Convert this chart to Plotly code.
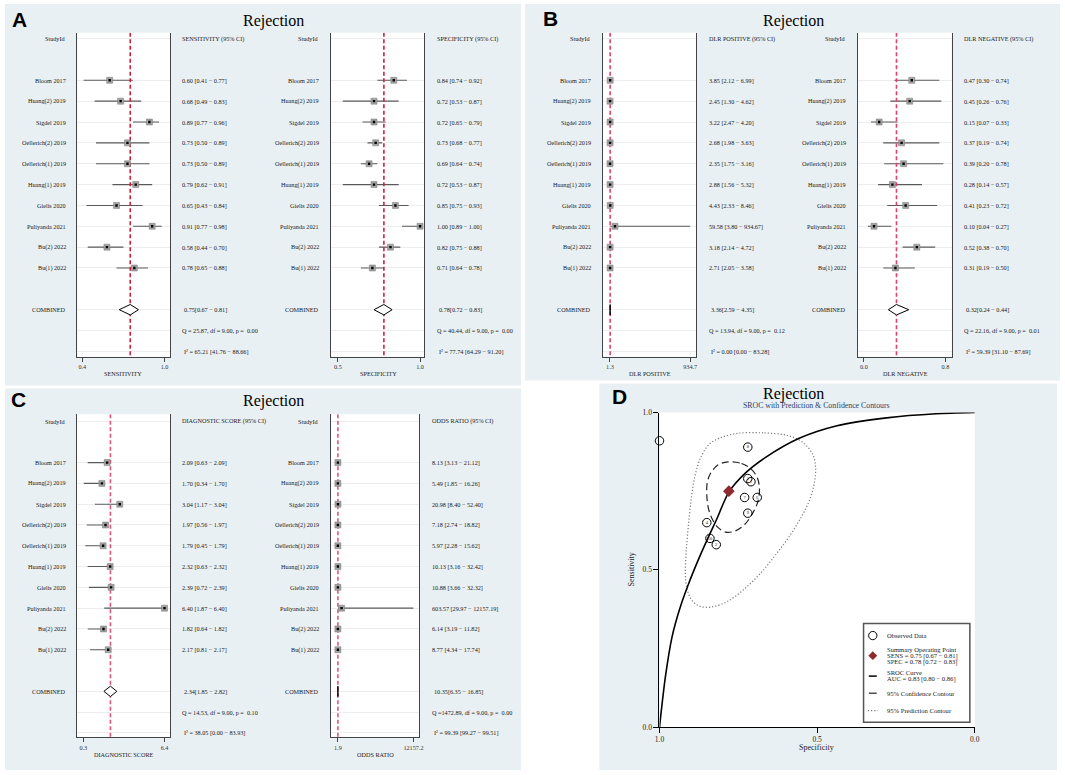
import plotly.graph_objects as go

W, H = 1065, 775
SERIF = "Liberation Serif"

# ---------------- data ----------------
studies = ["Bloom 2017", "Huang(2) 2019", "Sigdel 2019", "Oellerich(2) 2019", "Oellerich(1) 2019",
           "Huang(1) 2019", "Gielis 2020", "Puliyanda 2021", "Bu(2) 2022", "Bu(1) 2022"]

sens = [0.60, 0.68, 0.89, 0.73, 0.73, 0.79, 0.65, 0.91, 0.58, 0.78]
sens_lo = [0.41, 0.49, 0.77, 0.50, 0.50, 0.62, 0.43, 0.77, 0.44, 0.65]
sens_hi = [0.77, 0.83, 0.96, 0.89, 0.89, 0.91, 0.84, 0.98, 0.70, 0.88]
sens_comb = [0.75, 0.67, 0.81]
sens_q = "Q = 25.87, df = 9.00, p =  0.00"
sens_i2 = "I² = 65.21 [41.76 − 88.66]"

spec = [0.84, 0.72, 0.72, 0.73, 0.69, 0.72, 0.85, 1.00, 0.82, 0.71]
spec_lo = [0.74, 0.53, 0.65, 0.68, 0.64, 0.53, 0.75, 0.89, 0.75, 0.64]
spec_hi = [0.92, 0.87, 0.79, 0.77, 0.74, 0.87, 0.93, 1.00, 0.88, 0.78]
spec_comb = [0.78, 0.72, 0.83]
spec_q = "Q = 40.44, df = 9.00, p =  0.00"
spec_i2 = "I² = 77.74 [64.29 − 91.20]"

dlrp = [3.85, 2.45, 3.22, 2.68, 2.35, 2.88, 4.43, 59.58, 3.18, 2.71]
dlrp_lo = [2.12, 1.30, 2.47, 1.98, 1.75, 1.56, 2.33, 3.80, 2.14, 2.05]
dlrp_hi = [6.99, 4.62, 4.20, 3.63, 3.16, 5.32, 8.46, 934.67, 4.72, 3.58]
dlrp_comb = [3.36, 2.59, 4.35]
dlrp_q = "Q = 13.94, df = 9.00, p =  0.12"
dlrp_i2 = "I² = 0.00 [0.00 − 83.28]"

dlrn = [0.47, 0.45, 0.15, 0.37, 0.39, 0.28, 0.41, 0.10, 0.52, 0.31]
dlrn_lo = [0.30, 0.26, 0.07, 0.19, 0.20, 0.14, 0.23, 0.04, 0.38, 0.19]
dlrn_hi = [0.74, 0.76, 0.33, 0.74, 0.78, 0.57, 0.72, 0.27, 0.70, 0.50]
dlrn_comb = [0.32, 0.24, 0.44]
dlrn_q = "Q = 22.16, df = 9.00, p =  0.01"
dlrn_i2 = "I² = 59.39 [31.10 − 87.69]"

dscore = [2.09, 1.70, 3.04, 1.97, 1.79, 2.32, 2.39, 6.40, 1.82, 2.17]
dscore_lo = [0.63, 0.34, 1.17, 0.56, 0.45, 0.63, 0.72, 1.87, 0.64, 0.81]
dscore_hi = [2.09, 1.70, 3.04, 1.97, 1.79, 2.32, 2.39, 6.40, 1.82, 2.17]
dscore_comb = [2.34, 1.85, 2.82]
dscore_q = "Q = 14.53, df = 9.00, p =  0.10"
dscore_i2 = "I² = 38.05 [0.00 − 83.93]"

odds = [8.13, 5.49, 20.98, 7.18, 5.97, 10.13, 10.88, 603.57, 6.14, 8.77]
odds_lo = [3.13, 1.85, 8.40, 2.74, 2.28, 3.16, 3.66, 29.97, 3.19, 4.34]
odds_hi = [21.12, 16.26, 52.40, 18.82, 15.62, 32.42, 32.32, 12157.19, 11.82, 17.74]
odds_comb = [10.35, 6.35, 16.85]
odds_q = "Q =1472.89, df = 9.00, p =  0.00"
odds_i2 = "I² = 99.39 [99.27 − 99.51]"

# SROC panel
sroc_labels = ["10", "9", "8", "7", "6", "5", "4", "", "2", "1"]
auc_text = "AUC = 0.83 [0.80 − 0.86]"
curve_spec = [1.0, 0.981, 0.960, 0.934, 0.908, 0.876, 0.845, 0.819, 0.780, 0.727, 0.667, 0.557, 0.437, 0.280, 0.123, 0.0]
curve_sens = [0.0, 0.162, 0.288, 0.382, 0.455, 0.534, 0.604, 0.660, 0.747, 0.808, 0.855, 0.918, 0.958, 0.983, 0.996, 1.0]
conf_spec = [0.782, 0.740, 0.709, 0.690, 0.683, 0.688, 0.704, 0.730, 0.761, 0.791, 0.814, 0.832, 0.845, 0.850, 0.848, 0.835, 0.812, 0.782]
conf_sens = [0.843, 0.838, 0.820, 0.793, 0.759, 0.717, 0.681, 0.644, 0.623, 0.620, 0.634, 0.660, 0.696, 0.738, 0.780, 0.812, 0.835, 0.843]
pred_spec = [0.751, 0.667, 0.594, 0.547, 0.515, 0.505, 0.510, 0.526, 0.552, 0.588, 0.630, 0.677, 0.730, 0.782, 0.835,
             0.871, 0.897, 0.913, 0.918, 0.915, 0.908, 0.899, 0.887, 0.866, 0.840, 0.803, 0.751]
pred_sens = [0.934, 0.935, 0.927, 0.906, 0.869, 0.827, 0.770, 0.717, 0.665, 0.607, 0.550, 0.492, 0.440, 0.401, 0.382,
             0.384, 0.403, 0.440, 0.487, 0.560, 0.644, 0.728, 0.801, 0.864, 0.901, 0.921, 0.934]


def px(x):
    return x / W


def py(y):
    return 1 - y / H


# ---------------- forest panel definitions ----------------
TOP = dict(row0=35.0, sp=21.1, top=29.0, bot=357.0, tick_y=366.0, title_y=374.0)
BOT = dict(row0=421.9, sp=21.04, top=415.0, bot=742.0, tick_y=751.0, title_y=759.0)

panels = [
    dict(est=sens, lo=sens_lo, hi=sens_hi, comb=sens_comb, q=sens_q, i2=sens_i2,
         header="SENSITIVITY (95% CI)", atitle="SENSITIVITY", tv=[0.4, 1.0], tt=["0.4", "1.0"],
         box=(73, 167), tpx=(78, 161), lab_x=63.3, val_x=176.7, atx=119.3, g=TOP, red="#cf1f3a"),
    dict(est=spec, lo=spec_lo, hi=spec_hi, comb=spec_comb, q=spec_q, i2=spec_i2,
         header="SPECIFICITY (95% CI)", atitle="SPECIFICITY", tv=[0.5, 1.0], tt=["0.5", "1.0"],
         box=(329.3, 423.3), tpx=(336, 419), lab_x=319.3, val_x=434.3, atx=376.7, g=TOP, red="#cf1f3a"),
    dict(est=dlrp, lo=dlrp_lo, hi=dlrp_hi, comb=dlrp_comb, q=dlrp_q, i2=dlrp_i2,
         header="DLR POSITIVE (95% CI)", atitle="DLR POSITIVE", tv=[1.3, 934.7], tt=["1.3", "934.7"],
         box=(603.3, 697.7), tpx=(610.7, 691.7), lab_x=594, val_x=709, atx=651, g=TOP, red="#e0406a"),
    dict(est=dlrn, lo=dlrn_lo, hi=dlrn_hi, comb=dlrn_comb, q=dlrn_q, i2=dlrn_i2,
         header="DLR NEGATIVE (95% CI)", atitle="DLR NEGATIVE", tv=[0.0, 0.8], tt=["0.0", "0.8"],
         box=(861, 955.7), tpx=(867, 949.3), lab_x=851, val_x=965.7, atx=909, g=TOP, red="#e0406a"),
    dict(est=dscore, lo=dscore_lo, hi=dscore_hi, comb=dscore_comb, q=dscore_q, i2=dscore_i2,
         header="DIAGNOSTIC SCORE (95% CI)", atitle="DIAGNOSTIC SCORE", tv=[0.3, 6.4], tt=["0.3", "6.4"],
         box=(72.7, 166.7), tpx=(79, 161), lab_x=63.3, val_x=176.7, atx=120, g=BOT, red="#e2557a"),
    dict(est=odds, lo=odds_lo, hi=odds_hi, comb=odds_comb, q=odds_q, i2=odds_i2,
         header="ODDS RATIO (95% CI)", atitle="ODDS RATIO", tv=[1.9, 12157.2], tt=["1.9", "12157.2"],
         box=(329.3, 418.3), tpx=(336, 412.3), lab_x=319.3, val_x=429.3, atx=374, g=BOT, red="#e2557a"),
]

fig = go.Figure()
shapes = []
annotations = []
layout_axes = {}

# panel backgrounds
BG = "#e9f0f3"
for (x0, y0, x1, y1) in [(0, 0, 521, 386), (525, 0, 1065, 381), (0, 389, 521, 775), (600, 384, 1062, 775)]:
    shapes.append(dict(type="rect", xref="paper", yref="paper", x0=px(x0), x1=px(x1), y0=py(y1), y1=py(y0),
                       fillcolor=BG, line=dict(width=0), layer="below"))

TXT = dict(family=SERIF, size=6.2, color="#1a1a1a")

study_rows = list(range(2, 12))
for i, p in enumerate(panels, start=1):
    g = p["g"]
    xa = "x" if i == 1 else f"x{i}"
    ya = "y" if i == 1 else f"y{i}"
    b0, b1 = p["box"]
    tp0, tp1 = p["tpx"]
    t0, t1 = p["tv"]
    s = (tp1 - tp0) / (t1 - t0)
    xr = [t0 - (tp0 - b0) / s, t1 + (b1 - tp1) / s]
    top_row = -(g["row0"] - g["top"]) / g["sp"]
    bot_row = (g["bot"] - g["row0"]) / g["sp"]

    # white plot box
    shapes.append(dict(type="rect", xref="paper", yref="paper", x0=px(b0), x1=px(b1), y0=py(g["bot"]), y1=py(g["top"]),
                       fillcolor="white", line=dict(width=0), layer="below"))

    layout_axes["xaxis" if i == 1 else f"xaxis{i}"] = dict(
        domain=[px(b0), px(b1)], range=xr, anchor=ya, showgrid=False, zeroline=False,
        showline=True, linecolor="#444", linewidth=1, ticks="outside", ticklen=4, tickcolor="#444",
        tickvals=p["tv"], ticktext=p["tt"], tickfont=dict(family=SERIF, size=6.2, color="#333"), fixedrange=True)
    layout_axes["yaxis" if i == 1 else f"yaxis{i}"] = dict(
        domain=[py(g["bot"]), py(g["top"])], range=[bot_row, top_row], anchor=xa,
        showline=True, mirror=True, linecolor="#444", linewidth=1, zeroline=False,
        showgrid=True, gridcolor="#ededed", gridwidth=1, tickvals=[0] + study_rows + [13, 14, 15],
        showticklabels=False, ticks="", fixedrange=True)

    # CI lines
    cx, cy = [], []
    for r, l, h in zip(study_rows, p["lo"], p["hi"]):
        cx += [l, h, None]
        cy += [r, r, None]
    fig.add_trace(go.Scatter(x=cx, y=cy, mode="lines", line=dict(color="#5a5a5a", width=1.1),
                             xaxis=xa, yaxis=ya, hoverinfo="skip"))
    # reference line at combined estimate
    fig.add_trace(go.Scatter(x=[p["comb"][0], p["comb"][0]], y=[top_row, bot_row], mode="lines",
                             line=dict(color=p["red"], width=1.6, dash="4px,2.5px"),
                             xaxis=xa, yaxis=ya, hoverinfo="skip"))
    # combined diamond
    ce, cl, ch = p["comb"]
    fig.add_trace(go.Scatter(x=[cl, ce, ch, ce, cl], y=[13, 13 - 0.25, 13, 13 + 0.25, 13], mode="lines",
                             fill="toself", fillcolor="white", line=dict(color="black", width=1),
                             xaxis=xa, yaxis=ya, hoverinfo="skip"))
    # study squares
    fig.add_trace(go.Scatter(x=p["est"], y=study_rows, mode="markers",
                             marker=dict(symbol="square", size=6, color="#a3a3a3", line=dict(width=0.5, color="#777")),
                             xaxis=xa, yaxis=ya, hoverinfo="skip"))
    fig.add_trace(go.Scatter(x=p["est"], y=study_rows, mode="markers",
                             marker=dict(symbol="square", size=2.4, color="black"),
                             xaxis=xa, yaxis=ya, hoverinfo="skip"))

    # text columns
    def ann(x, r, text, anchor):
        annotations.append(dict(x=px(x), xref="paper", y=r, yref=ya, text=text, showarrow=False,
                                xanchor=anchor, yanchor="middle", font=TXT))

    ann(p["lab_x"], 0, "StudyId", "right")
    ann(p["val_x"], 0, p["header"], "left")
    for r, name, e, l, h in zip(study_rows, studies, p["est"], p["lo"], p["hi"]):
        ann(p["lab_x"], r, name, "right")
        ann(p["val_x"], r, f"{e:.2f} [{l:.2f} − {h:.2f}]", "left")
    ann(p["lab_x"], 13, "COMBINED", "right")
    ann(p["val_x"] + 2, 13, f"{ce:.2f}[{cl:.2f} − {ch:.2f}]", "left")
    ann(p["val_x"], 14, p["q"], "left")
    ann(p["val_x"] + 2, 15, p["i2"], "left")
    # axis title
    annotations.append(dict(x=px(p["atx"]), y=py(g["title_y"]), xref="paper", yref="paper", text=p["atitle"],
                            showarrow=False, xanchor="center", yanchor="middle", font=TXT))

# panel titles
for (cx_, cy_) in [(271, 17), (796, 17), (271, 402)]:
    annotations.append(dict(x=px(cx_), y=py(cy_), xref="paper", yref="paper", text="Rejection", showarrow=False,
                            xanchor="center", yanchor="middle", font=dict(family=SERIF, size=16, color="black")))

# panel letters
for (letter, lx, ly) in [("A", 15, 16), ("B", 551, 15), ("C", 14, 400), ("D", 620, 397)]:
    annotations.append(dict(x=px(lx), y=py(ly), xref="paper", yref="paper", text=f"<b>{letter}</b>",
                            showarrow=False, xanchor="center", yanchor="middle",
                            font=dict(family="Liberation Sans", size=21, color="black")))

# ---------------- SROC panel ----------------
DX0, DX1, DY1, DY0 = 660.7, 979.0, 413.3, 731.7
shapes.append(dict(type="rect", xref="paper", yref="paper", x0=px(DX0), x1=px(DX1), y0=py(DY0), y1=py(DY1),
                   fillcolor="white", line=dict(width=0), layer="below"))
layout_axes["xaxis7"] = dict(domain=[px(DX0), px(DX1)], range=[1, 0], anchor="y7", showgrid=False, zeroline=False,
                             showline=True, linecolor="black", linewidth=1, ticks="outside", ticklen=5,
                             tickcolor="black", tickvals=[1, 0.5, 0], ticktext=["1.0", "0.5", "0.0"],
                             tickfont=dict(family=SERIF, size=7.5, color="#222"), fixedrange=True)
layout_axes["yaxis7"] = dict(domain=[py(DY0), py(DY1)], range=[0, 1], anchor="x7", showgrid=False, zeroline=False,
                             showline=True, linecolor="black", linewidth=1, ticks="outside", ticklen=5,
                             tickcolor="black", tickvals=[0, 0.5, 1], ticktext=["0.0", "0.5", "1.0"],
                             tickfont=dict(family=SERIF, size=7.5, color="#222"), fixedrange=True)

fig.add_trace(go.Scatter(x=pred_spec, y=pred_sens, mode="lines",
                         line=dict(color="#7a7a7a", width=1.2, dash="1.2px,2px", shape="spline", smoothing=1.0),
                         xaxis="x7", yaxis="y7", hoverinfo="skip"))
fig.add_trace(go.Scatter(x=conf_spec, y=conf_sens, mode="lines",
                         line=dict(color="#222", width=1.2, dash="7px,4px", shape="spline", smoothing=1.0),
                         xaxis="x7", yaxis="y7", hoverinfo="skip"))
fig.add_trace(go.Scatter(x=curve_spec, y=curve_sens, mode="lines",
                         line=dict(color="black", width=1.6, shape="spline", smoothing=0.8),
                         xaxis="x7", yaxis="y7", hoverinfo="skip", cliponaxis=False))
fig.add_trace(go.Scatter(x=spec, y=sens, mode="markers+text", text=sroc_labels, textposition="middle center",
                         textfont=dict(family=SERIF, size=4.5, color="#222"),
                         marker=dict(symbol="circle-open", size=8.5, color="black", line=dict(width=1, color="black")),
                         xaxis="x7", yaxis="y7", hoverinfo="skip", cliponaxis=False))
fig.add_trace(go.Scatter(x=[spec_comb[0]], y=[sens_comb[0]], mode="markers",
                         marker=dict(symbol="diamond", size=9, color="#8e2b2f"),
                         xaxis="x7", yaxis="y7", hoverinfo="skip"))

annotations.append(dict(x=px(796), y=py(395), xref="paper", yref="paper", text="Rejection", showarrow=False,
                        xanchor="center", yanchor="middle", font=dict(family=SERIF, size=16, color="black")))
annotations.append(dict(x=px(819.5), y=py(406.5), xref="paper", yref="paper",
                        text="SROC with Prediction & Confidence Contours", showarrow=False,
                        xanchor="center", yanchor="middle", font=dict(family=SERIF, size=7.8, color="#2b3f6b")))
annotations.append(dict(x=px(819.3), y=py(752.5), xref="paper", yref="paper", text="Specificity", showarrow=False,
                        xanchor="center", yanchor="middle", font=dict(family=SERIF, size=8, color="#222")))
annotations.append(dict(x=px(632.5), y=py(572.5), xref="paper", yref="paper", text="Sensitivity", showarrow=False,
                        textangle=-90, xanchor="center", yanchor="middle",
                        font=dict(family=SERIF, size=8, color="#222")))

# legend box
LX0, LY0, LX1, LY1 = 866.7, 626.7, 974.0, 726.7
shapes.append(dict(type="rect", xref="paper", yref="paper", x0=px(LX0), x1=px(LX1), y0=py(LY1), y1=py(LY0),
                   fillcolor="white", line=dict(color="#555", width=1.5)))
gx = 876
shapes.append(dict(type="circle", xref="paper", yref="paper", x0=px(gx - 4.2), x1=px(gx + 4.2),
                   y0=py(639 + 4.2), y1=py(639 - 4.2), line=dict(color="black", width=1)))
dy = 659.3
shapes.append(dict(type="path", xref="paper", yref="paper",
                   path=f"M {px(gx - 4.5)},{py(dy)} L {px(gx)},{py(dy - 4.5)} L {px(gx + 4.5)},{py(dy)} "
                        f"L {px(gx)},{py(dy + 4.5)} Z",
                   fillcolor="#8e2b2f", line=dict(width=0)))
shapes.append(dict(type="line", xref="paper", yref="paper", x0=px(gx - 4), x1=px(gx + 4), y0=py(680), y1=py(680),
                   line=dict(color="black", width=1.5)))
shapes.append(dict(type="line", xref="paper", yref="paper", x0=px(gx - 4), x1=px(gx + 4), y0=py(697.3),
                   y1=py(697.3), line=dict(color="#222", width=1.2)))
shapes.append(dict(type="line", xref="paper", yref="paper", x0=px(gx - 5), x1=px(gx + 5), y0=py(715), y1=py(715),
                   line=dict(color="#7a7a7a", width=1.2, dash="1.2px,2px")))

LEG = dict(family=SERIF, size=6.6, color="#222")
leg_lines = [
    (639, "Observed Data"),
    (652.8, "Summary Operating Point"),
    (659.4, f"SENS = {sens_comb[0]:.2f} [{sens_comb[1]:.2f} − {sens_comb[2]:.2f}]"),
    (666.0, f"SPEC = {spec_comb[0]:.2f} [{spec_comb[1]:.2f} − {spec_comb[2]:.2f}]"),
    (676.7, "SROC Curve"),
    (683.3, auc_text),
    (697.3, "95% Confidence Contour"),
    (715.0, "95% Prediction Contour"),
]
for yy, t in leg_lines:
    annotations.append(dict(x=px(888), y=py(yy), xref="paper", yref="paper", text=t, showarrow=False,
                            xanchor="left", yanchor="middle", font=LEG))

fig.update_layout(width=W, height=H, margin=dict(l=0, r=0, t=0, b=0), paper_bgcolor="white",
                  plot_bgcolor="rgba(0,0,0,0)", showlegend=False, shapes=shapes, annotations=annotations,
                  **layout_axes)

fig.write_html("out.html", config={"displayModeBar": False, "staticPlot": True},
               post_script="document.body.style.margin='0';document.body.style.padding='0';"
                           "document.body.style.overflow='hidden';")
